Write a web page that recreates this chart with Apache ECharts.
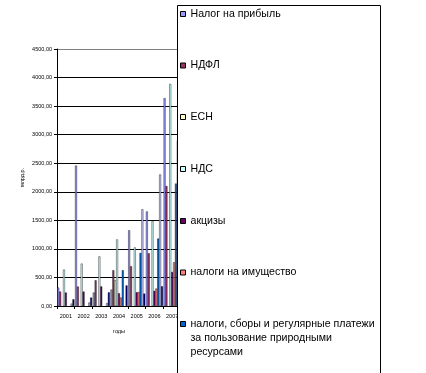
<!DOCTYPE html>
<html><head><meta charset="utf-8">
<script src="https://cdn.jsdelivr.net/npm/echarts@6/dist/echarts.min.js"></script>
<style>html,body{margin:0;padding:0;background:#fff}#c{width:426px;height:373px}</style>
</head><body><div id="c"></div>
<script>
// ---- data ----
const years = ['2001', '2002', '2003', '2004', '2005', '2006', '2007'];
const seriesNames = [
  'Налог на прибыль',
  'НДФЛ',
  'ЕСН',
  'НДС',
  'акцизы',
  'налоги на имущество',
  'налоги, сборы и регулярные платежи\nза пользование природными\nресурсами',
  'задолженность и перерасчеты по отмененным налогам',
  'прочие налоги и сборы'
];
const profitTax   = [322, 2458, 235, 287, 1325, 1655, 3640];
const ndfl        = [252, 340, 450, 625, 697, 922, 2100];
const esn         = [null, null, null, 450, null, null, null];
const nds         = [637, 742, 868, 1165, 1025, 1488, 3888];
const excise      = [235, 252, 342, 222, 240, 265, 596];
const propertyTax = [null, null, null, 147, 245, 305, 765];
const naturalRes  = [null, null, null, 625, 928, 1180, 2143];
const arrears     = [42, 60, 50, null, 1693, 2303, 2900];
const otherTaxes  = [117, 147, 238, 360, 217, 345, 400];
const yMin = 0, yMax = 4500, yStep = 500;
const yName = 'млрд.р.';
const xName = 'годы';

// ---- styles ----
const colors = ['#9999FF', '#993366', '#FFFFCC', '#CCFFFF', '#660066', '#FF8080', '#0066CC', '#CCCCFF', '#000080'];
const allData = [profitTax, ndfl, esn, nds, excise, propertyTax, naturalRes, arrears, otherTaxes];
const FONT = '"Liberation Sans", Arial, sans-serif';

const series = seriesNames.map((n, i) => ({
  name: n,
  type: 'bar',
  data: allData[i],
  barGap: '0%',
  barCategoryGap: '4%',
  itemStyle: { color: colors[i], borderColor: '#000', borderWidth: 0.4 },
  animation: false
}));

const legendCenters = [14, 65.5, 117, 169, 221, 272.5, 324, 376, 440];
const legends = seriesNames.map((n, i) => {
  const lines = n.split('\n').length;
  const lh = lines > 1 ? 13.8 : 12;
  // blank lines before the text keep the key square beside the first line
  const shown = lines > 1 ? '\n'.repeat(lines - 1) + n : n;
  const h = (2 * lines - 1) * lh;
  return {
    data: [n],
    orient: 'vertical',
    left: 180,
    top: legendCenters[i] - h / 2,
    padding: 0,
    itemGap: 0,
    itemWidth: 5,
    itemHeight: 5,
    selectedMode: false,
    icon: 'rect',
    formatter: () => shown,
    itemStyle: { borderColor: '#000', borderWidth: 1 },
    textStyle: { fontSize: 10.6, fontFamily: FONT, color: '#000', lineHeight: lh }
  };
});

const splitColors = [];
for (let v = yMin; v <= yMax; v += yStep) splitColors.push(v === yMax ? '#808080' : '#000');

const chart = echarts.init(document.getElementById('c'), null, { renderer: 'canvas' });
chart.setOption({
  backgroundColor: '#fff',
  animation: false,
  textStyle: { fontFamily: FONT },
  color: colors,
  grid: { left: 57, top: 49, width: 124, height: 257, containLabel: false },
  xAxis: {
    type: 'category',
    data: years,
    name: xName,
    nameLocation: 'middle',
    nameGap: 22,
    nameTextStyle: { fontSize: 5.5, color: '#000', fontFamily: FONT },
    axisLine: { lineStyle: { color: '#000', width: 1 } },
    axisTick: { show: true, length: 3, lineStyle: { color: '#000' } },
    axisLabel: { fontSize: 5.5, color: '#000', margin: 7, fontFamily: FONT, interval: 0 }
  },
  yAxis: {
    type: 'value',
    min: yMin, max: yMax, interval: yStep,
    name: yName,
    nameLocation: 'middle',
    nameRotate: 90,
    nameGap: 32,
    nameTextStyle: { fontSize: 5.5, color: '#000', fontFamily: FONT },
    axisLine: { show: true, lineStyle: { color: '#000', width: 1 } },
    axisTick: { show: true, length: 3, lineStyle: { color: '#000' } },
    axisLabel: {
      fontSize: 5.5, color: '#000', margin: 5, fontFamily: FONT,
      formatter: v => v.toFixed(2).replace('.', ',')
    },
    splitLine: { show: true, lineStyle: { color: splitColors, width: 1 } }
  },
  legend: legends,
  graphic: [{
    type: 'rect',
    x: 177.5, y: 5.5,
    shape: { width: 203, height: 420 },
    style: { fill: '#fff', stroke: '#000', lineWidth: 1 },
    z: 3, silent: true
  }],
  series: series
});
</script>
</body></html>
